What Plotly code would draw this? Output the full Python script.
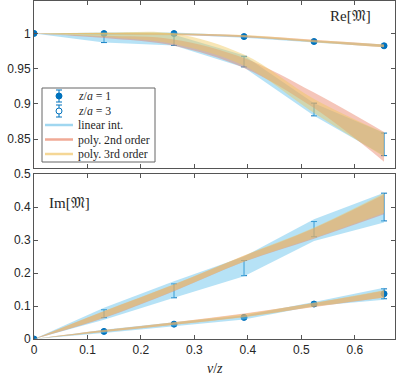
import plotly.graph_objects as go

# nu/z values
nu_z = [0, 0.1309, 0.2618, 0.3927, 0.5236, 0.6545]

# Re[M] data points
re_z1 = [1.0, 0.9998, 0.9998, 0.9955, 0.9885, 0.9824]
re_z1_err = [0, 0.001, 0.001, 0.001, 0.001, 0.0012]
re_z3 = [1.0, 0.993, 0.9905, 0.960, 0.892, 0.8425]
re_z3_err = [0, 0.006, 0.0075, 0.0075, 0.009, 0.016]

# Im[M] data points
im_z1 = [0, 0.023, 0.045, 0.0655, 0.106, 0.137]
im_z1_err = [0, 0.003, 0.003, 0.003, 0.005, 0.015]
im_z3 = [0, 0.0767, 0.146, 0.215, 0.333, 0.400]
im_z3_err = [0, 0.012, 0.021, 0.023, 0.023, 0.042]

# bands: (centre, half width) per fit
re_z1_lin = ([1.0, 0.9998, 0.9998, 0.9955, 0.9885, 0.9824], [0, 0.0015, 0.0015, 0.0015, 0.0015, 0.0018])
re_z1_p2 = ([1.0, 0.9996, 0.9985, 0.9960, 0.9895, 0.9822], [0, 0.001, 0.0012, 0.0014, 0.0016, 0.002])
re_z1_p3 = ([1.0, 0.9998, 0.9992, 0.9962, 0.9890, 0.9824], [0, 0.001, 0.0012, 0.0014, 0.0016, 0.002])
re_z3_lin = ([1.0, 0.993, 0.9905, 0.960, 0.892, 0.8425], [0, 0.006, 0.0075, 0.0085, 0.009, 0.016])
re_z3_p2 = ([1.0, 0.995, 0.987, 0.958, 0.905, 0.839], [0, 0.0015, 0.0045, 0.007, 0.011, 0.021])
re_z3_p3 = ([1.0, 0.998, 0.9925, 0.962, 0.897, 0.842], [0, 0.003, 0.0075, 0.008, 0.010, 0.017])

im_z1_lin = ([0, 0.023, 0.045, 0.0655, 0.106, 0.137], [0, 0.005, 0.006, 0.006, 0.006, 0.018])
im_z1_p2 = ([0, 0.024, 0.047, 0.072, 0.103, 0.136], [0, 0.003, 0.004, 0.005, 0.006, 0.010])
im_z1_p3 = ([0, 0.024, 0.047, 0.071, 0.104, 0.137], [0, 0.003, 0.004, 0.005, 0.006, 0.011])
im_z3_lin = ([0, 0.0767, 0.150, 0.220, 0.330, 0.398], [0, 0.018, 0.025, 0.030, 0.033, 0.045])
im_z3_p2 = ([0, 0.074, 0.155, 0.243, 0.320, 0.408], [0, 0.010, 0.010, 0.009, 0.016, 0.030])
im_z3_p3 = ([0, 0.075, 0.156, 0.244, 0.322, 0.412], [0, 0.010, 0.010, 0.009, 0.016, 0.030])

BLUE = '#0072BD'
FILL = {
    'lin': 'rgba(110,198,238,0.50)',
    'p2': 'rgba(232,120,90,0.42)',
    'p3': 'rgba(240,200,90,0.45)',
}
LEG_LINES = [('linear int.', 'rgb(160,215,240)'),
             ('poly. 2nd order', 'rgb(240,170,150)'),
             ('poly. 3rd order', 'rgb(245,215,150)')]

# figure geometry (pixels) used for the hand-drawn legend
W, H = 399, 377
ML, MR, MT, MB = 34, 4, 1, 38


def px(x):
    return (x - ML) / (W - ML - MR)


def py(y):
    return (H - MB - y) / (H - MT - MB)


fig = go.Figure()


def add_points(ys, err, yaxis, filled):
    fig.add_trace(go.Scatter(
        x=nu_z, y=ys, mode='markers', showlegend=False,
        xaxis='x' if yaxis == 'y' else 'x2', yaxis=yaxis,
        marker=dict(size=6 if filled else 7, color=BLUE if filled else 'rgba(0,0,0,0)',
                    symbol='circle' if filled else 'circle-open',
                    line=dict(color=BLUE, width=1)),
        error_y=dict(type='data', array=err, color=BLUE, thickness=1, width=3),
    ))


def add_band(band, kind, yaxis):
    mid, half = band
    lo = [m - h for m, h in zip(mid, half)]
    hi = [m + h for m, h in zip(mid, half)]
    shape = 'linear' if kind == 'lin' else 'spline'
    xa = 'x' if yaxis == 'y' else 'x2'
    fig.add_trace(go.Scatter(x=nu_z, y=lo, mode='lines', line=dict(width=0, shape=shape),
                             showlegend=False, hoverinfo='skip', xaxis=xa, yaxis=yaxis))
    fig.add_trace(go.Scatter(x=nu_z, y=hi, mode='lines', line=dict(width=0, shape=shape),
                             fill='tonexty', fillcolor=FILL[kind],
                             showlegend=False, hoverinfo='skip', xaxis=xa, yaxis=yaxis))


add_points(re_z1, re_z1_err, 'y', True)
add_points(re_z3, re_z3_err, 'y', False)
add_points(im_z1, im_z1_err, 'y2', True)
add_points(im_z3, im_z3_err, 'y2', False)

for band, kind in [(re_z1_lin, 'lin'), (re_z1_p2, 'p2'), (re_z1_p3, 'p3'),
                   (re_z3_lin, 'lin'), (re_z3_p2, 'p2'), (re_z3_p3, 'p3')]:
    add_band(band, kind, 'y')
for band, kind in [(im_z1_lin, 'lin'), (im_z1_p2, 'p2'), (im_z1_p3, 'p3'),
                   (im_z3_lin, 'lin'), (im_z3_p2, 'p2'), (im_z3_p3, 'p3')]:
    add_band(band, kind, 'y2')

# hand-made legend (plotly's own legend rows are too tall for this box)
shapes = [dict(type='rect', xref='paper', yref='paper', layer='above',
               x0=px(42), x1=px(155), y0=py(162), y1=py(88),
               fillcolor='white', line=dict(color='#666', width=1))]
annos = []
row_y = [96, 111, 125, 139.5, 154]
text_font = dict(family='Liberation Serif', size=11.8, color='#262626')

for i, (label, filled) in enumerate([('<i>z</i>/<i>a</i> = 1', True), ('<i>z</i>/<i>a</i> = 3', False)]):
    yc = row_y[i]
    shapes.append(dict(type='line', xref='paper', yref='paper', layer='above',
                       x0=px(59), x1=px(59), y0=py(yc - 6), y1=py(yc + 6),
                       line=dict(color=BLUE, width=1)))
    for cap in (yc - 6, yc + 6):
        shapes.append(dict(type='line', xref='paper', yref='paper', layer='above',
                           x0=px(56), x1=px(62), y0=py(cap), y1=py(cap),
                           line=dict(color=BLUE, width=1)))
    shapes.append(dict(type='circle', xref='paper', yref='paper', layer='above',
                       x0=px(56), x1=px(62), y0=py(yc + 3), y1=py(yc - 3),
                       fillcolor=BLUE if filled else 'white', line=dict(color=BLUE, width=1)))
    annos.append(dict(text=label, x=px(76), y=py(yc), xref='paper', yref='paper',
                      xanchor='left', yanchor='middle', showarrow=False, font=text_font))

for i, (label, col) in enumerate(LEG_LINES):
    yc = row_y[i + 2]
    shapes.append(dict(type='line', xref='paper', yref='paper', layer='above',
                       x0=px(45), x1=px(73), y0=py(yc), y1=py(yc),
                       line=dict(color=col, width=2.5)))
    annos.append(dict(text=label, x=px(76), y=py(yc), xref='paper', yref='paper',
                      xanchor='left', yanchor='middle', showarrow=False, font=text_font))

annos += [
    dict(text='Re[𝔐]', x=px(328), y=py(16), xref='paper', yref='paper', showarrow=False,
         xanchor='left', yanchor='middle',
         font=dict(family='Liberation Serif', size=15, color='#262626')),
    dict(text='Im[𝔐]', x=px(47), y=py(203), xref='paper', yref='paper', showarrow=False,
         xanchor='left', yanchor='middle',
         font=dict(family='Liberation Serif', size=15, color='#262626')),
    dict(text='<i>ν</i>/<i>z</i>', x=px(215), y=py(368), xref='paper', yref='paper',
         xanchor='center', yanchor='middle',
         showarrow=False, font=dict(family='Liberation Serif', size=14, color='#262626')),
]

axis_common = dict(showline=True, linecolor='#555', linewidth=1, mirror='ticks',
                   ticks='inside', ticklen=4, tickcolor='#555', showgrid=False,
                   zeroline=False, automargin=False,
                   tickfont=dict(family='Liberation Sans', size=12, color='#262626'))

fig.update_layout(
    width=W, height=H,
    margin=dict(l=ML, r=MR, t=MT, b=MB, autoexpand=False),
    paper_bgcolor='white', plot_bgcolor='white',
    showlegend=False,
    xaxis=dict(domain=[0, 1], range=[0, 0.675], anchor='y', showticklabels=False,
               tickvals=[0, 0.1, 0.2, 0.3, 0.4, 0.5, 0.6], **axis_common),
    yaxis=dict(domain=[0.506, 1], range=[0.809, 1.046], anchor='x',
               tickvals=[0.85, 0.9, 0.95, 1], ticktext=['0.85', '0.9', '0.95', '1'], **axis_common),
    xaxis2=dict(domain=[0, 1], range=[0, 0.675], anchor='y2',
                tickvals=[0, 0.1, 0.2, 0.3, 0.4, 0.5, 0.6],
                ticktext=['0', '0.1', '0.2', '0.3', '0.4', '0.5', '0.6'], **axis_common),
    yaxis2=dict(domain=[0, 0.488], range=[0, 0.5], anchor='x2',
                tickvals=[0, 0.1, 0.2, 0.3, 0.4, 0.5],
                ticktext=['0', '0.1', '0.2', '0.3', '0.4', '0.5'], **axis_common),
    shapes=shapes,
    annotations=annos,
)

# the page body has an 8px default margin; drop it so the figure fills the window
fig.write_html("out.html", config={'displayModeBar': False},
               post_script="document.body.style.margin='0';")
